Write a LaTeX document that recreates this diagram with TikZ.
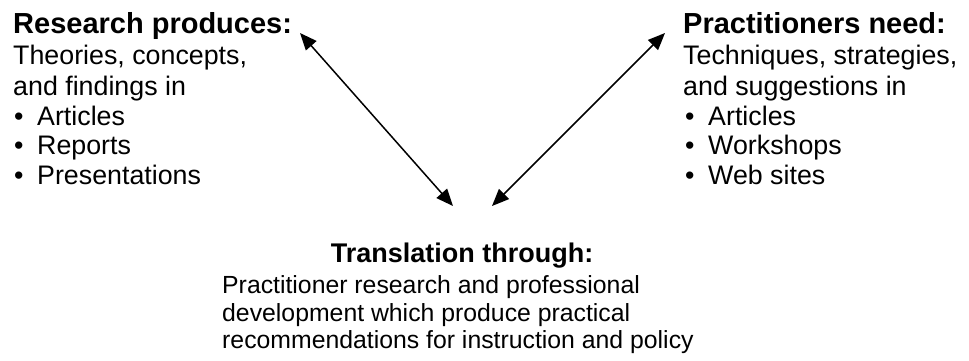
\documentclass[tikz,border=0pt]{standalone}
\usepackage{fontspec}
\setmainfont{Liberation Sans}
\usetikzlibrary{arrows.meta}
\tikzset{
  hdr/.style={anchor=base west, inner sep=0pt, font=\fontsize{29}{30}\selectfont\bfseries},
  txt/.style={anchor=base west, inner sep=0pt, font=\fontsize{26.8}{28}\selectfont},
  bhdr/.style={anchor=base, inner sep=0pt, font=\fontsize{27}{28}\selectfont\bfseries},
  btxt/.style={anchor=base west, inner sep=0pt, font=\fontsize{24.8}{26}\selectfont},
  link/.style={line width=1.5pt, {Triangle[length=17pt,width=14pt]}-{Triangle[length=17pt,width=14pt]}}
}
\newcommand{\bul}[1]{\makebox[23pt][l]{•}#1}
\begin{document}
\begin{tikzpicture}[x=1pt,y=-1pt]
\useasboundingbox (0,0) rectangle (969,360);
% left block
\node[hdr] (lh) at (13,33) {Research produces:};
\node[txt] (l1) at (13,64) {Theories, concepts,};
\node[txt] (l2) at (13,95) {and findings in};
\node[txt] (l3) at (14,125) {\bul{Articles}};
\node[txt] (l4) at (14,154.5) {\bul{Reports}};
\node[txt] (l5) at (14,184) {\bul{Presentations}};
% right block
\node[hdr] (rh) at (683,33) {Practitioners need:};
\node[txt] (r1) at (683,64) {Techniques, strategies,};
\node[txt] (r2) at (683,95) {and suggestions in};
\node[txt] (r3) at (685,125) {\bul{Articles}};
\node[txt] (r4) at (685,154.5) {\bul{Workshops}};
\node[txt] (r5) at (685,184) {\bul{Web sites}};
% bottom block
\node[bhdr] (bh) at (462,262) {Translation through:};
\node[btxt] (b1) at (222,293) {Practitioner research and professional};
\node[btxt] (b2) at (222,321) {development which produce practical};
\node[btxt] (b3) at (222,348) {recommendations for instruction and policy};
% connector ends
\coordinate (la) at (300,33);
\coordinate (lb) at (453,206);
\coordinate (ra) at (665,33);
\coordinate (rb) at (492,206);
\draw[link] (la) -- (lb);
\draw[link] (ra) -- (rb);
\end{tikzpicture}
\end{document}
